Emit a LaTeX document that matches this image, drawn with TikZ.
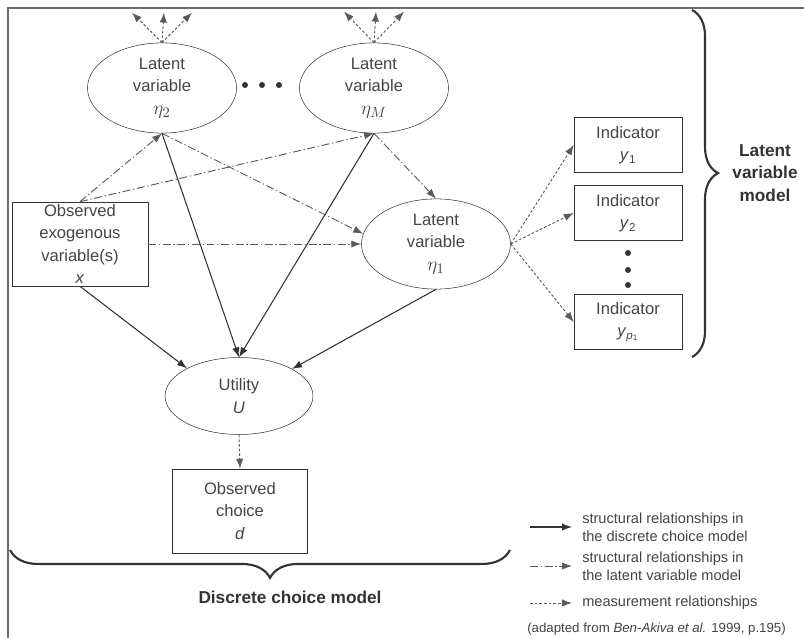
\documentclass[tikz,border=0pt]{standalone}
\usepackage{fontspec}
\setmainfont{Liberation Sans}
\usetikzlibrary{arrows.meta}
\usetikzlibrary{shapes.geometric}
\usetikzlibrary{decorations.pathreplacing}
\definecolor{linegray}{HTML}{333333}
\definecolor{dashgray}{HTML}{5A5A5A}
\definecolor{textgray}{HTML}{444444}
\definecolor{framegray}{HTML}{6E6E6E}
\newcommand{\bigeta}[1]{{\fontsize{15.5}{17}\selectfont$\eta_{#1}$}}
\tikzset{
  latent/.style={draw=linegray, ellipse, minimum width=3.95cm, minimum height=2.39cm,
    inner sep=0pt, align=center, text=textgray, font=\fontsize{12.5}{17}\selectfont},
  observed/.style={draw=linegray, rectangle, minimum width=3.6cm, minimum height=2.23cm,
    inner sep=0pt, align=center, text=textgray, font=\fontsize{12.5}{17}\selectfont},
  indicator/.style={observed, minimum width=2.86cm, minimum height=1.46cm},
  tip/.style={-{Latex[length=7.5pt,width=5.5pt]}},
  structdcm/.style={tip, draw=linegray, line width=0.8pt},
  structlvm/.style={tip, draw=dashgray, line width=0.7pt, dash pattern=on 6pt off 2pt on 1pt off 2pt},
  meas/.style={tip, draw=dashgray, line width=0.7pt, dash pattern=on 2pt off 1.5pt},
  bigbrace/.style={draw=linegray, line width=1.6pt, decorate},
  bracelabel/.style={align=center, text=linegray, font=\fontsize{13}{17}\selectfont\bfseries},
  legtext/.style={anchor=west, inner sep=0pt, align=left, text=textgray, font=\fontsize{11}{13.5}\selectfont}
}

\begin{document}
\begin{tikzpicture}[x=0.0265cm, y=-0.0265cm]
      \useasboundingbox (0,0) rectangle (804,638);
      % frame
      \draw [framegray, line width=1.5pt] (8,638) -- (8,8) -- (804,8);

      % latent variables
      \node [latent] (eta2) at (162,88) {Latent\\variable\\\bigeta{2}};
      \node [latent] (etaM) at (374,88) {Latent\\variable\\\bigeta{M}};
      \node [latent] (eta1) at (436,244) {Latent\\variable\\\bigeta{1}};
      \foreach \dx in {245,262,279}
        \fill [linegray] (\dx,85) circle [radius=3];

      \node [observed] (x) at (80,244) {Observed\\exogenous\\variable(s)\\\textit{x}};
      \node [latent, minimum width=3.92cm, minimum height=2.04cm] (U) at (239,396) {Utility\\\textit{U}};
      \node [observed, minimum width=3.58cm] (d) at (240,511) {Observed\\choice\\\textit{d}};

      % indicators
      \node [indicator] (y1) at (628,145) {Indicator\\\textit{y}\textsubscript{1}};
      \node [indicator] (y2) at (628,213) {Indicator\\\textit{y}\textsubscript{2}};
      \node [indicator] (yp) at (628,322) {Indicator\\\textit{y}\textsubscript{\textit{p}\textsubscript{1}}};
      \foreach \dy in {253,270,285}
        \fill [linegray] (628,\dy) circle [radius=3];

      % indicators of eta2 and etaM (off the top)
      \foreach \n/\dx in {a/-30,b/2,c/30} {
        \coordinate (eta2\n) at ([shift={(\dx,-30)}]eta2.north);
        \coordinate (etaM\n) at ([shift={(\dx,-31)}]etaM.north);
        \draw [meas] (eta2.north) -- (eta2\n);
        \draw [meas] (etaM.north) -- (etaM\n);
      }

      % structural relationships, latent variable model
      \draw [structlvm] (x.north) -- (eta2.south);
      \draw [structlvm] (x.north) -- (etaM.south);
      \draw [structlvm] (x.east) -- (eta1.west);
      \draw [structlvm] (eta2.south) -- (eta1.172);
      \draw [structlvm] (etaM.south) -- (eta1.north);

      % structural relationships, discrete choice model
      \draw [structdcm] (x.south) -- (U.152);
      \draw [structdcm] (eta2.south) -- (U.north);
      \draw [structdcm] (etaM.south) -- (U.north);
      \draw [structdcm] (eta1.south) -- (U.27);

      % measurement relationships
      \draw [meas] (eta1.east) -- (y1.west);
      \draw [meas] (eta1.east) -- (y2.west);
      \draw [meas] (eta1.east) -- (yp.west);
      \draw [meas] (U.south) -- (d.north);

      % braces
      \draw [bigbrace, decoration={brace, amplitude=0.69cm, aspect=0.47}] (692,10) -- (692,357);
      \node [bracelabel] (lvm) at (765,173) {Latent\\variable\\model};
      \draw [bigbrace, decoration={brace, mirror, amplitude=0.74cm, aspect=0.52}] (10,550) -- (510,550);
      \node [bracelabel] (dcm) at (290,597) {Discrete choice model};

      % legend
      \coordinate (leg1s) at (530,527); \coordinate (leg1e) at (572,527);
      \coordinate (leg2s) at (530,566); \coordinate (leg2e) at (572,566);
      \coordinate (leg3s) at (530,603); \coordinate (leg3e) at (572,603);
      \draw [structdcm] (leg1s) -- (leg1e);
      \draw [structlvm] (leg2s) -- (leg2e);
      \draw [meas] (leg3s) -- (leg3e);
      \node [legtext] (leg1) at (582,527) {structural relationships in\\the discrete choice model};
      \node [legtext] (leg2) at (582,566) {structural relationships in\\the latent variable model};
      \node [legtext] (leg3) at (582,603) {measurement relationships};
      \node [legtext, font=\fontsize{10}{12}\selectfont] (src) at (527,629)
        {(adapted from \textit{Ben-Akiva et al.} 1999, p.195)};
\end{tikzpicture}
\end{document}
